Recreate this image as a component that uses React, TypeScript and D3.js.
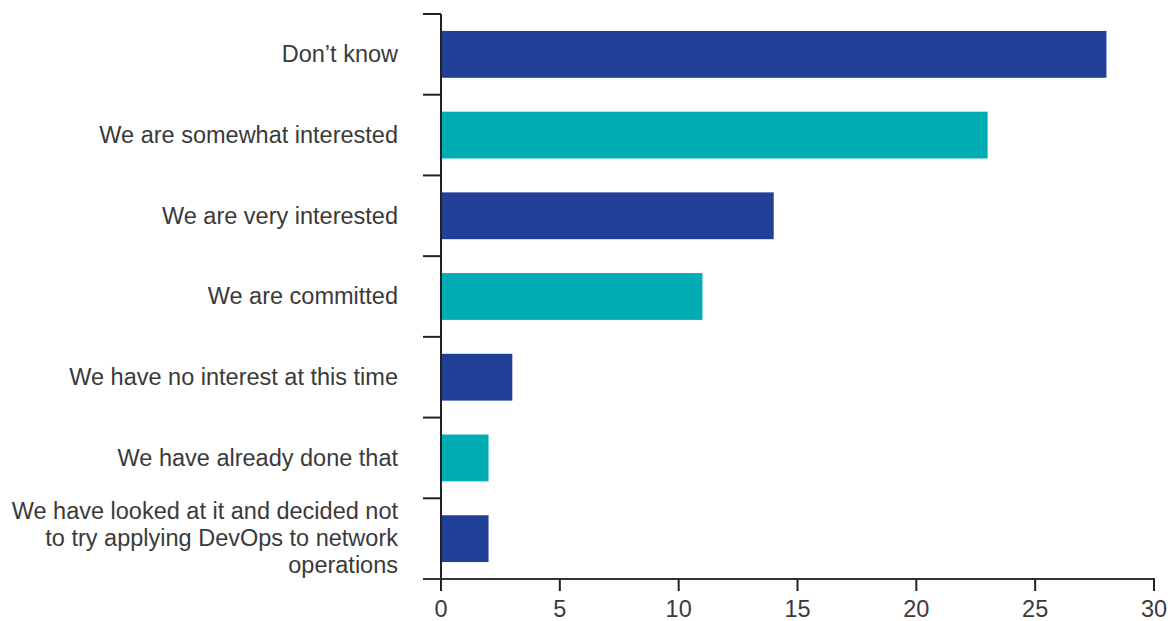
import React from "react";
import * as d3 from "d3";

const categories: string[][] = [
  ["Don\u2019t know"],
  ["We are somewhat interested"],
  ["We are very interested"],
  ["We are committed"],
  ["We have no interest at this time"],
  ["We have already done that"],
  ["We have looked at it and decided not", "to try applying DevOps to network", "operations"],
];
const values: number[] = [28, 23, 14, 11, 3, 2, 2];
const barColors: string[] = ["#223F98", "#00ADB5"];
const xTicks: number[] = [0, 5, 10, 15, 20, 25, 30];

const W = 1175;
const H = 621;
const FONT = "'Liberation Sans', Arial, sans-serif";

export default function App() {
  const x = d3.scaleLinear().domain([0, 30]).range([441, 1154]);
  const idx = categories.map((_, i) => String(i));
  const y = d3.scaleBand<string>().domain(idx).range([14, 579]).paddingInner(0.42).paddingOuter(0.21);
  const step = y.step();
  const bandTop = 14;
  const boundaries = d3.range(categories.length + 1).map((i) => bandTop + i * step);
  const lineH = 27;

  return (
    <svg width={W} height={H} style={{ position: "absolute", left: 0, top: 0, background: "#fff" }} fontFamily={FONT}>
      {values.map((v, i) => (
        <rect key={i} x={x(0)} y={y(String(i))} width={x(v) - x(0)} height={y.bandwidth()} fill={barColors[i % 2]} />
      ))}
      {/* y axis */}
      <line x1={441} x2={441} y1={14} y2={591} stroke="#222" strokeWidth={2} />
      {boundaries.map((b, i) => (
        <line key={i} x1={423} x2={441} y1={b} y2={b} stroke="#222" strokeWidth={2} />
      ))}
      {/* x axis */}
      <line x1={423} x2={x(30) + 1} y1={579} y2={579} stroke="#333" strokeWidth={2} />
      {xTicks.map((t) => (
        <g key={t}>
          <line x1={x(t)} x2={x(t)} y1={579} y2={591} stroke="#222" strokeWidth={2} />
          <text x={x(t)} y={616.5} textAnchor="middle" fontSize={23.5} fill="#3a3a3a">{t}</text>
        </g>
      ))}
      {categories.map((lines, i) => {
        const c = (y(String(i)) as number) + y.bandwidth() / 2;
        const start = c - ((lines.length - 1) * lineH) / 2;
        return (
          <text key={i} x={398} textAnchor="end" fontSize={23.5} fill="#3a3a3a">
            {lines.map((l, j) => (
              <tspan key={j} x={398} y={start + j * lineH} dy="0.33em">{l}</tspan>
            ))}
          </text>
        );
      })}
    </svg>
  );
}
